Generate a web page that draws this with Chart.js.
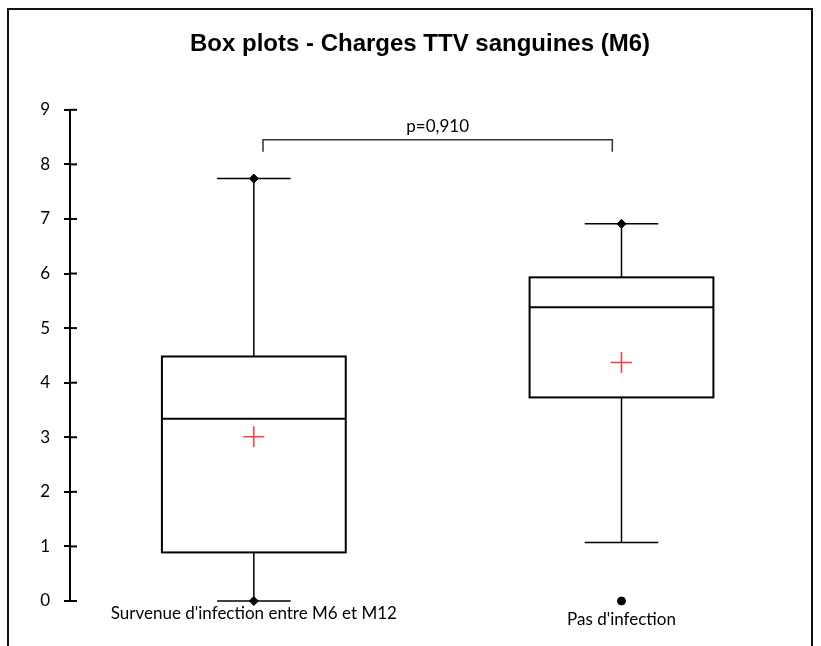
<!DOCTYPE html>
<html lang="fr">
<head>
<meta charset="utf-8">
<title>Box plots - Charges TTV sanguines (M6)</title>
<script src="https://cdn.jsdelivr.net/npm/chart.js@4"></script>
<style>
    body { margin: 0; background: #fff; }
    canvas { display: block; }
</style>
</head>
<body>
<canvas id="boxChart" width="821" height="646"></canvas>
<script>
// Box plot statistics per group
const categories = ["Survenue d'infection entre M6 et M12", "Pas d'infection"];
const whiskerLow = [0, 1.07];
const q1 = [0.89, 3.73];
const median = [3.34, 5.38];
const q3 = [4.48, 5.93];
const whiskerHigh = [7.74, 6.91];
const means = [3.01, 4.37];
const minima = [0, 0];
const maxima = [7.74, 6.91];
const outliers = [[], [0]];
const pValue = "p=0,910";
const yMin = 0;
const yMax = 9;

const BOX_HALF = 0.25;
const CAP_HALF = 0.1;

// points for the scatter layers
const meanPoints = means.map((m, i) => ({ x: i, y: m }));
const extremePoints = [];
categories.forEach((c, i) => {
    if (whiskerLow[i] === minima[i]) extremePoints.push({ x: i, y: whiskerLow[i] });
    if (whiskerHigh[i] === maxima[i]) extremePoints.push({ x: i, y: whiskerHigh[i] });
});
const outlierPoints = [];
outliers.forEach((list, i) => list.forEach(v => outlierPoints.push({ x: i, y: v })));

function line(ctx, x1, y1, x2, y2) {
    ctx.beginPath();
    ctx.moveTo(x1, y1);
    ctx.lineTo(x2, y2);
    ctx.stroke();
}

// whiskers, boxes and medians, drawn under the markers
const boxPlotPlugin = {
    id: 'boxPlot',
    beforeDatasetsDraw(chart) {
        const { ctx, scales: { x, y } } = chart;
        ctx.save();
        ctx.strokeStyle = '#000';
        categories.forEach((c, i) => {
            const cx = x.getPixelForValue(i);
            const left = x.getPixelForValue(i - BOX_HALF);
            const right = x.getPixelForValue(i + BOX_HALF);
            const capL = x.getPixelForValue(i - CAP_HALF);
            const capR = x.getPixelForValue(i + CAP_HALF);

            ctx.lineWidth = 1.5;
            line(ctx, cx, y.getPixelForValue(whiskerLow[i]), cx, y.getPixelForValue(q1[i]));
            line(ctx, cx, y.getPixelForValue(q3[i]), cx, y.getPixelForValue(whiskerHigh[i]));
            line(ctx, capL, y.getPixelForValue(whiskerLow[i]), capR, y.getPixelForValue(whiskerLow[i]));
            line(ctx, capL, y.getPixelForValue(whiskerHigh[i]), capR, y.getPixelForValue(whiskerHigh[i]));

            ctx.lineWidth = 2;
            const top = y.getPixelForValue(q3[i]);
            const bottom = y.getPixelForValue(q1[i]);
            ctx.fillStyle = '#fff';
            ctx.fillRect(left, top, right - left, bottom - top);
            ctx.strokeRect(left, top, right - left, bottom - top);
            line(ctx, left, y.getPixelForValue(median[i]), right, y.getPixelForValue(median[i]));
        });
        ctx.restore();
    },
    afterDraw(chart) {
        const { ctx, scales: { x, y }, chartArea } = chart;
        ctx.save();

        // inner half of the y tick marks
        ctx.strokeStyle = '#000';
        ctx.lineWidth = 2;
        y.ticks.forEach(t => {
            const py = y.getPixelForValue(t.value);
            line(ctx, chartArea.left, py, chartArea.left + 7, py);
        });

        // group names under each box
        ctx.fillStyle = '#000';
        ctx.font = '17px Lato';
        ctx.textAlign = 'center';
        ctx.textBaseline = 'alphabetic';
        const base = y.getPixelForValue(yMin);
        categories.forEach((c, i) => {
            const drop = outliers[i].some(v => v === yMin) ? 24 : 18;
            ctx.fillText(c, x.getPixelForValue(i), base + drop);
        });

        // significance bracket
        const by = y.getPixelForValue(8.45);
        const bx1 = x.getPixelForValue(0.025);
        const bx2 = x.getPixelForValue(0.975);
        ctx.strokeStyle = '#333';
        ctx.lineWidth = 1.5;
        ctx.beginPath();
        ctx.moveTo(bx1, by + 12);
        ctx.lineTo(bx1, by);
        ctx.lineTo(bx2, by);
        ctx.lineTo(bx2, by + 12);
        ctx.stroke();
        ctx.font = '17px Lato';
        ctx.fillText(pValue, (bx1 + bx2) / 2, by - 8);

        // outer frame
        ctx.strokeStyle = '#111';
        ctx.lineWidth = 2;
        ctx.strokeRect(8, 9, 804, 700);
        ctx.restore();
    }
};

const boxChart = new Chart(document.getElementById('boxChart'), {
    type: 'scatter',
    data: {
        datasets: [
            {
                label: 'Moyenne',
                data: meanPoints,
                pointStyle: 'cross',
                pointRadius: 10.5,
                borderColor: '#ff3b3b',
                borderWidth: 1.5,
                clip: false
            },
            {
                label: 'Minimum / Maximum',
                data: extremePoints,
                pointStyle: 'rectRot',
                pointRadius: 4.5,
                backgroundColor: '#000',
                borderColor: '#000',
                borderWidth: 1,
                clip: false
            },
            {
                label: 'Valeurs atypiques',
                data: outlierPoints,
                pointStyle: 'circle',
                pointRadius: 4,
                backgroundColor: '#000',
                borderColor: '#000',
                borderWidth: 1,
                clip: false
            }
        ]
    },
    options: {
        responsive: false,
        animation: false,
        layout: {
            padding: { left: 20, right: 1, top: 0, bottom: 45 }
        },
        plugins: {
            legend: { display: false },
            tooltip: { enabled: false },
            title: {
                display: true,
                text: 'Box plots - Charges TTV sanguines (M6)',
                color: '#000',
                font: { family: 'Liberation Sans', size: 24, weight: 'bold' },
                padding: { top: 30, bottom: 51 }
            }
        },
        scales: {
            x: {
                type: 'linear',
                display: false,
                min: -0.5,
                max: 1.51
            },
            y: {
                min: yMin,
                max: yMax,
                ticks: {
                    stepSize: 1,
                    color: '#000',
                    padding: 14,
                    font: { family: 'Lato', size: 17 }
                },
                grid: {
                    drawOnChartArea: false,
                    tickLength: 6,
                    color: '#000',
                    lineWidth: 2
                },
                border: { display: true, color: '#000', width: 2 },
                afterFit(scale) {
                    scale.width = 50;
                }
            }
        }
    },
    plugins: [boxPlotPlugin]
});
</script>
</body>
</html>
